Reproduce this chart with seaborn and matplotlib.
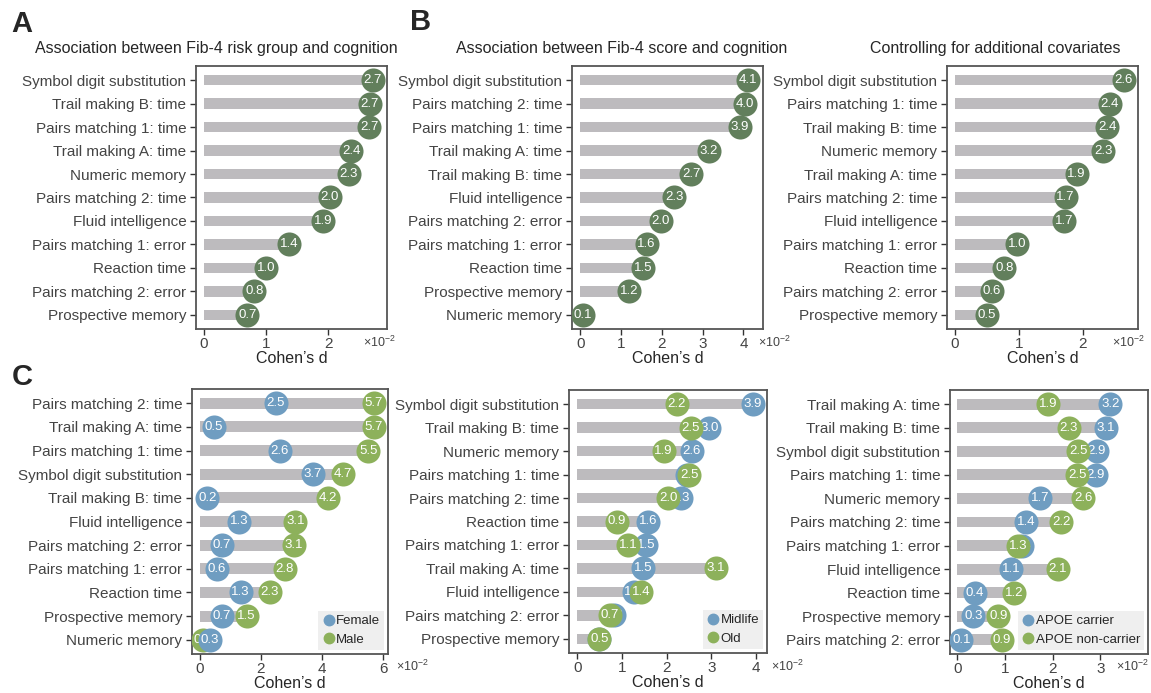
import numpy as np
import pandas as pd
import matplotlib.pyplot as plt
from matplotlib.lines import Line2D
import seaborn as sns

# ---- data (Cohen's d, x10^-2) ----
a_labels = ["Symbol digit substitution", "Trail making B: time", "Pairs matching 1: time",
            "Trail making A: time", "Numeric memory", "Pairs matching 2: time",
            "Fluid intelligence", "Pairs matching 1: error", "Reaction time",
            "Pairs matching 2: error", "Prospective memory"]
a_values = [2.72, 2.67, 2.66, 2.37, 2.33, 2.03, 1.92, 1.37, 1.0, 0.81, 0.70]

b1_labels = ["Symbol digit substitution", "Pairs matching 2: time", "Pairs matching 1: time",
             "Trail making A: time", "Trail making B: time", "Fluid intelligence",
             "Pairs matching 2: error", "Pairs matching 1: error", "Reaction time",
             "Prospective memory", "Numeric memory"]
b1_values = [4.12, 4.03, 3.91, 3.16, 2.72, 2.31, 1.97, 1.63, 1.54, 1.20, 0.07]

b2_labels = ["Symbol digit substitution", "Pairs matching 1: time", "Trail making B: time",
             "Numeric memory", "Trail making A: time", "Pairs matching 2: time",
             "Fluid intelligence", "Pairs matching 1: error", "Reaction time",
             "Pairs matching 2: error", "Prospective memory"]
b2_values = [2.64, 2.42, 2.38, 2.32, 1.90, 1.73, 1.71, 0.97, 0.77, 0.58, 0.50]

c1_labels = ["Pairs matching 2: time", "Trail making A: time", "Pairs matching 1: time",
             "Symbol digit substitution", "Trail making B: time", "Fluid intelligence",
             "Pairs matching 2: error", "Pairs matching 1: error", "Reaction time",
             "Prospective memory", "Numeric memory"]
c1_female = [2.49, 0.46, 2.62, 3.69, 0.24, 1.28, 0.71, 0.56, 1.33, 0.71, 0.33]
c1_male = [5.70, 5.70, 5.51, 4.67, 4.20, 3.13, 3.07, 2.78, 2.29, 1.53, 0.10]

c2_labels = ["Symbol digit substitution", "Trail making B: time", "Numeric memory",
             "Pairs matching 1: time", "Pairs matching 2: time", "Reaction time",
             "Pairs matching 1: error", "Trail making A: time", "Fluid intelligence",
             "Pairs matching 2: error", "Prospective memory"]
c2_midlife = [3.93, 2.96, 2.56, 2.45, 2.32, 1.59, 1.54, 1.48, 1.26, 0.82, 0.48]
c2_old = [2.23, 2.54, 1.93, 2.51, 2.04, 0.88, 1.14, 3.11, 1.43, 0.72, 0.49]

c3_labels = ["Trail making A: time", "Trail making B: time", "Symbol digit substitution",
             "Pairs matching 1: time", "Numeric memory", "Pairs matching 2: time",
             "Pairs matching 1: error", "Fluid intelligence", "Reaction time",
             "Prospective memory", "Pairs matching 2: error"]
c3_carrier = [3.21, 3.12, 2.93, 2.90, 1.74, 1.44, 1.36, 1.13, 0.37, 0.34, 0.09]
c3_noncarrier = [1.91, 2.34, 2.54, 2.52, 2.64, 2.18, 1.28, 2.11, 1.19, 0.86, 0.94]

GRAY = "#bdbbbe"
DKGREEN = "#627f5c"
BLUE = "#6f9dc1"
GREEN = "#8db15b"

sns.set_style("ticks")
plt.rcParams["font.family"] = ["Liberation Sans", "DejaVu Sans"]
plt.rcParams["mathtext.fontset"] = "custom"
plt.rcParams["mathtext.rm"] = "Liberation Sans"

W, H = 1151, 693
fig = plt.figure(figsize=(W / 100, H / 100), dpi=100)


def make_ax(left, right, top, bottom):
    return fig.add_axes([left / W, 1 - bottom / H, (right - left) / W, (bottom - top) / H])


def lollipop(ax, labels, groups, xlim, xticks):
    # groups: list of (name, values, color), drawn in order
    bar_len = np.max([g[1] for g in groups], axis=0)
    sns.barplot(x=bar_len, y=labels, order=labels, color=GRAY, width=0.46,
                saturation=1, linewidth=0, orient="h", ax=ax, zorder=1)
    for i, (name, vals, col) in enumerate(groups):
        sns.scatterplot(x=vals, y=labels, color=col, s=300, linewidth=0,
                        ax=ax, zorder=3 + 2 * i, legend=False)
        for j, v in enumerate(vals):
            ax.text(v, j, f"{v:.1f}", color="white", fontsize=9.5, ha="center",
                    va="center", zorder=4 + 2 * i)
    ax.set_xlim(*xlim)
    ax.set_ylim(len(labels) - 0.4, -0.6)
    ax.set_xticks(xticks)
    ax.set_xlabel("Cohen\u2019s d", fontsize=11.5, labelpad=0)
    ax.set_ylabel("")
    ax.tick_params(axis="y", labelsize=11, length=4, width=1, colors="#333333",
                   labelcolor="#444444", pad=3)
    ax.tick_params(axis="x", labelsize=11, length=4, width=1, colors="#333333",
                   labelcolor="#444444", pad=2)
    for sp in ax.spines.values():
        sp.set_color("#555555")
        sp.set_linewidth(1.3)


def add_legend(ax, groups):
    handles = [Line2D([], [], marker="o", ls="", color=c, markersize=7.5) for _, _, c in groups]
    leg = ax.legend(handles, [g[0] for g in groups], loc="lower right", fontsize=9.5,
                    frameon=True, facecolor="#efefef", edgecolor="none", framealpha=1,
                    fancybox=False, handletextpad=0.05, handlelength=1.0,
                    borderaxespad=0.3, labelspacing=0.5, borderpad=0.3)
    leg.get_frame().set_linewidth(0)
    leg.set_zorder(20)


# panel A
axA = make_ax(196, 387, 66, 329)
lollipop(axA, a_labels, [("A", a_values, DKGREEN)], (-0.13, 2.95), [0, 1, 2])

# panel B
axB1 = make_ax(572, 763, 66, 329)
lollipop(axB1, b1_labels, [("B", b1_values, DKGREEN)], (-0.2, 4.48), [0, 1, 2, 3, 4])
axB2 = make_ax(947, 1138, 66, 329)
lollipop(axB2, b2_labels, [("B", b2_values, DKGREEN)], (-0.125, 2.86), [0, 1, 2])

# panel C
axC1 = make_ax(192, 388, 389, 654)
g1 = [("Male", c1_male, GREEN), ("Female", c1_female, BLUE)]
lollipop(axC1, c1_labels, g1, (-0.26, 6.16), [0, 2, 4, 6])
add_legend(axC1, g1[::-1])

axC2 = make_ax(569, 767, 390, 653)
g2 = [("Midlife", c2_midlife, BLUE), ("Old", c2_old, GREEN)]
lollipop(axC2, c2_labels, g2, (-0.19, 4.25), [0, 1, 2, 3, 4])
add_legend(axC2, g2)

axC3 = make_ax(950, 1148, 390, 654)
g3 = [("APOE carrier", c3_carrier, BLUE), ("APOE non-carrier", c3_noncarrier, GREEN)]
lollipop(axC3, c3_labels, g3, (-0.15, 4.0), [0, 1, 2, 3])
add_legend(axC3, g3)

# titles
fig.text(216 / W, 1 - 49 / H, "Association between Fib-4 risk group and cognition",
         ha="center", va="center", fontsize=11.5)
fig.text(622 / W, 1 - 49 / H, "Association between Fib-4 score and cognition",
         ha="center", va="center", fontsize=11.5)
fig.text(995 / W, 1 - 49 / H, "Controlling for additional covariates",
         ha="center", va="center", fontsize=11.5)

# panel letters
for lx, ly, lt in [(22, 24, "A"), (421, 22, "B"), (22, 377, "C")]:
    fig.text(lx / W, 1 - ly / H, lt, ha="center", va="center", fontsize=21, fontweight="bold")

# scale multipliers
for sx, sy in [(363, 342), (758, 342), (1112, 342), (396, 666), (771, 666), (1116, 666)]:
    fig.text(sx / W, 1 - sy / H, r"$\times$10$^{-2}$", ha="left", va="center",
             fontsize=9, color="#444444")

fig.savefig("out.png", dpi=100)
